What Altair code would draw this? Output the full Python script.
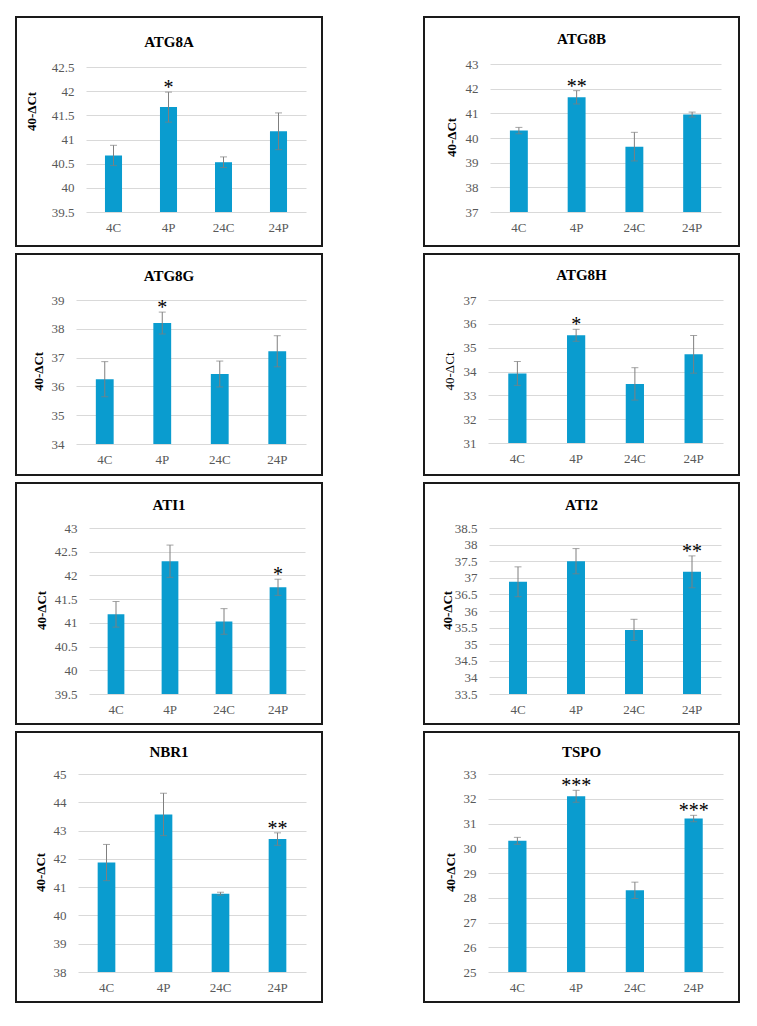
import altair as alt
import pandas as pd

categories = ["4C", "4P", "24C", "24P"]
genes = ["ATG8A", "ATG8B", "ATG8G", "ATG8H", "ATI1", "ATI2", "NBR1", "TSPO"]

atg8a_mean = [40.67, 41.67, 40.53, 41.17]
atg8a_err = [0.21, 0.31, 0.11, 0.38]
atg8a_sig = ["", "*", "", ""]
atg8a_ticks = [39.5, 40, 40.5, 41, 41.5, 42, 42.5]

atg8b_mean = [40.30, 41.65, 39.65, 40.95]
atg8b_err = [0.13, 0.27, 0.58, 0.10]
atg8b_sig = ["", "**", "", ""]
atg8b_ticks = [37, 38, 39, 40, 41, 42, 43]

atg8g_mean = [36.25, 38.20, 36.43, 37.22]
atg8g_err = [0.61, 0.38, 0.45, 0.54]
atg8g_sig = ["", "*", "", ""]
atg8g_ticks = [34, 35, 36, 37, 38, 39]

atg8h_mean = [33.92, 35.52, 33.48, 34.72]
atg8h_err = [0.50, 0.25, 0.68, 0.79]
atg8h_sig = ["", "*", "", ""]
atg8h_ticks = [31, 32, 33, 34, 35, 36, 37]

ati1_mean = [41.18, 42.30, 41.03, 41.75]
ati1_err = [0.27, 0.34, 0.27, 0.17]
ati1_sig = ["", "", "", "*"]
ati1_ticks = [39.5, 40, 40.5, 41, 41.5, 42, 42.5, 43]

ati2_mean = [36.88, 37.50, 35.43, 37.18]
ati2_err = [0.45, 0.38, 0.32, 0.48]
ati2_sig = ["", "", "", "**"]
ati2_ticks = [33.5, 34, 34.5, 35, 35.5, 36, 36.5, 37, 37.5, 38, 38.5]

nbr1_mean = [41.87, 43.57, 40.77, 42.70]
nbr1_err = [0.64, 0.75, 0.05, 0.22]
nbr1_sig = ["", "", "", "**"]
nbr1_ticks = [38, 39, 40, 41, 42, 43, 44, 45]

tspo_mean = [30.30, 32.10, 28.30, 31.20]
tspo_err = [0.14, 0.24, 0.33, 0.13]
tspo_sig = ["", "***", "", "***"]
tspo_ticks = [25, 26, 27, 28, 29, 30, 31, 32, 33]

series = {
    "ATG8A": (atg8a_mean, atg8a_err, atg8a_sig, atg8a_ticks),
    "ATG8B": (atg8b_mean, atg8b_err, atg8b_sig, atg8b_ticks),
    "ATG8G": (atg8g_mean, atg8g_err, atg8g_sig, atg8g_ticks),
    "ATG8H": (atg8h_mean, atg8h_err, atg8h_sig, atg8h_ticks),
    "ATI1": (ati1_mean, ati1_err, ati1_sig, ati1_ticks),
    "ATI2": (ati2_mean, ati2_err, ati2_sig, ati2_ticks),
    "NBR1": (nbr1_mean, nbr1_err, nbr1_sig, nbr1_ticks),
    "TSPO": (tspo_mean, tspo_err, tspo_sig, tspo_ticks),
}

# layout: box w, h, plot x0, x1, plot top, plot bottom, y-title centre x, y, title y
layout = {
    "ATG8A": (306, 229, 70, 290, 50, 195, 15, 94, 25),
    "ATG8B": (315, 229, 66, 297, 47, 195, 27, 120, 22),
    "ATG8G": (306, 221, 60, 290, 46, 190, 22, 117, 22),
    "ATG8H": (315, 221, 64, 299, 46, 189, 25, 117, 21),
    "ATI1": (306, 241, 73, 289, 45, 211, 25, 127, 22),
    "ATI2": (315, 241, 65, 297, 45, 211, 23, 127, 22),
    "NBR1": (306, 270, 62, 290, 42, 240, 24, 140, 20),
    "TSPO": (315, 270, 64, 299, 42, 240, 26, 140, 20),
}

FONT = "Liberation Serif"
BAR = "#0A9CCF"
ERR = "#7F7F7F"


def panel(gene):
    mean, err, sig, ticks = series[gene]
    w, h, x0, x1, yt, yb, tx, ty, tty = layout[gene]
    df = pd.DataFrame({
        "cat": categories,
        "mean": mean,
        "lo": [m - e for m, e in zip(mean, err)],
        "hi": [m + e for m, e in zip(mean, err)],
        "sig": sig,
    })
    lo, hi = ticks[0], ticks[-1]
    base = alt.Chart(df)
    xaxis = alt.Axis(title=None, labelAngle=0, domain=False, ticks=False, grid=False,
                     offset=-(h - yb), labelPadding=9, labelFont=FONT, labelFontSize=13,
                     labelColor="#595959")
    xscale = alt.Scale(range=[x0, x1], paddingInner=0.69, paddingOuter=0.345)
    yaxis = alt.Axis(values=ticks, format="~g", title="40-ΔCt", grid=True,
                     gridColor="#D9D9D9", gridWidth=1, domain=False, ticks=False,
                     offset=-x0, labelPadding=12, labelFont=FONT, labelFontSize=13,
                     labelColor="#595959", titleFont=FONT, titleFontSize=13,
                     titleFontWeight="normal" if gene == "ATG8H" else "bold",
                     titleColor="#000000", titleX=tx - x0, titleY=ty,
                     titleAngle=270, titleBaseline="middle", titleAlign="center")
    yscale = alt.Scale(domain=[lo, hi], range=[yb, yt], nice=False, zero=False)

    def X():
        return alt.X("cat:N", sort=categories, scale=xscale, axis=xaxis)

    def Y(field):
        return alt.Y(field, scale=yscale, axis=yaxis)

    bars = base.mark_bar(color=BAR).encode(x=X(), y=Y("mean:Q"), y2=alt.datum(lo))
    rule = base.mark_rule(color=ERR, strokeWidth=1).encode(
        x=X(), y=Y("lo:Q"), y2="hi:Q")
    cap_lo = base.mark_tick(color=ERR, size=7, thickness=1).encode(x=X(), y=Y("lo:Q"))
    cap_hi = base.mark_tick(color=ERR, size=7, thickness=1).encode(x=X(), y=Y("hi:Q"))
    stars = base.mark_text(font=FONT, fontSize=20, color="#000000",
                           baseline="alphabetic", dy=2).encode(
        x=X(), y=Y("hi:Q"), text="sig:N")
    return alt.layer(bars, rule, cap_lo, cap_hi, stars).properties(
        width=w, height=h,
        title=alt.TitleParams(gene, font=FONT, fontSize=15, fontWeight="bold",
                              color="#000000", anchor="middle", offset=-(tty + 8)),
    )


rows = []
for i in range(0, 8, 2):
    rows.append(alt.hconcat(panel(genes[i]), panel(genes[i + 1]), spacing=100))

chart = alt.vconcat(*rows, spacing=6).properties(
    padding={"left": 7, "top": 8, "right": 5, "bottom": 5}
).configure_view(stroke="#1A1A1A", strokeWidth=2).configure_concat(spacing=6)

chart.save("out.html", embed_options={"renderer": "svg", "actions": False})
